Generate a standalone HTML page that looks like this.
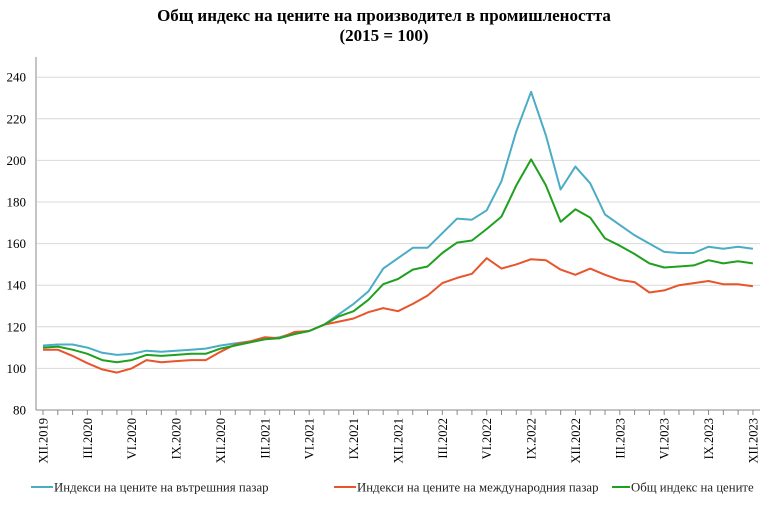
<!DOCTYPE html>
<html><head><meta charset="utf-8"><style>
body{margin:0;background:#fff;}
svg{display:block;font-family:"Liberation Serif","DejaVu Serif",serif;}
</style></head><body>
<svg id="s" width="768" height="522" xmlns="http://www.w3.org/2000/svg">
<text x="384" y="21" text-anchor="middle" font-size="17" font-weight="bold">Общ индекс на цените на производител в промишлеността</text>
<text x="384" y="41" text-anchor="middle" font-size="17" font-weight="bold">(2015 = 100)</text>
<g id="g"></g>
<g font-size="12.8" fill="#222">
<line x1="31" y1="487" x2="53" y2="487" stroke="#4bacc6" stroke-width="2"/>
<text x="54" y="491.5">Индекси на цените на вътрешния пазар</text>
<line x1="334" y1="487" x2="356" y2="487" stroke="#e8542b" stroke-width="2"/>
<text x="357" y="491.5">Индекси на цените на международния пазар</text>
<line x1="612" y1="487" x2="630" y2="487" stroke="#1fa01f" stroke-width="2"/>
<text x="631" y="491.5">Общ индекс на цените</text>
</g>
</svg>
<script>
var g=document.getElementById('g'),h='';
function Y(v){return 410-(v-80)*2.08;}
function X(i){return 43+i*14.79;}
for(var v=100;v<=240;v+=20)h+='<line x1="37" x2="760" y1="'+Y(v)+'" y2="'+Y(v)+'" stroke="#d9d9d9" stroke-width="1"/>';
for(var v=80;v<=240;v+=20)h+='<text x="26" y="'+(Y(v)+4.5)+'" text-anchor="end" font-size="13">'+v+'</text>';
h+='<line x1="36" y1="57" x2="36" y2="410" stroke="#888"/><line x1="36" y1="410" x2="760" y2="410" stroke="#888"/>';
for(var i=0;i<49;i++)h+='<line x1="'+X(i)+'" x2="'+X(i)+'" y1="410" y2="415" stroke="#888"/>';
var L=['XII.2019','III.2020','VI.2020','IX.2020','XII.2020','III.2021','VI.2021','IX.2021','XII.2021','III.2022','VI.2022','IX.2022','XII.2022','III.2023','VI.2023','IX.2023','XII.2023'];
for(var k=0;k<17;k++){var x=X(k*3)+4.5;h+='<text transform="translate('+x+',418) rotate(-90)" text-anchor="end" font-size="12.5">'+L[k]+'</text>';}
var B=[111,111.5,111.5,110,107.5,106.5,107,108.5,108,108.5,109,109.5,111,112,113,114,115,117,118,121,126,131,137,148,153,158,158,165,172,171.5,176,190,214,233,212,186,197,189,174,169,164,160,156,155.5,155.5,158.5,157.5,158.5,157.5];
var R=[109,109,106,102.5,99.5,98,100,104,103,103.5,104,104,108,111.5,113,115,114.5,117.5,118,121,122.5,124,127,129,127.5,131,135,141,143.5,145.5,153,148,150,152.5,152,147.5,145,148,145,142.5,141.5,136.5,137.5,140,141,142,140.5,140.5,139.5];
var G=[110,110.5,109,107,104,103,104,106.5,106,106.5,107,107,109.5,111,112.5,114,114.5,116.5,118,121,125,127.5,133,140.5,143,147.5,149,155.5,160.5,161.5,167,173,188,200.5,188,170.5,176.5,172.5,162.5,159,155,150.5,148.5,149,149.5,152,150.5,151.5,150.5];
function P(a,c){return '<polyline fill="none" stroke="'+c+'" stroke-width="2" stroke-linejoin="round" points="'+a.map(function(v,i){return X(i).toFixed(1)+','+Y(v).toFixed(1)}).join(' ')+'"/>';}
h+=P(B,'#4bacc6')+P(R,'#e8542b')+P(G,'#1fa01f');
g.innerHTML=h;
</script>
</body></html>
